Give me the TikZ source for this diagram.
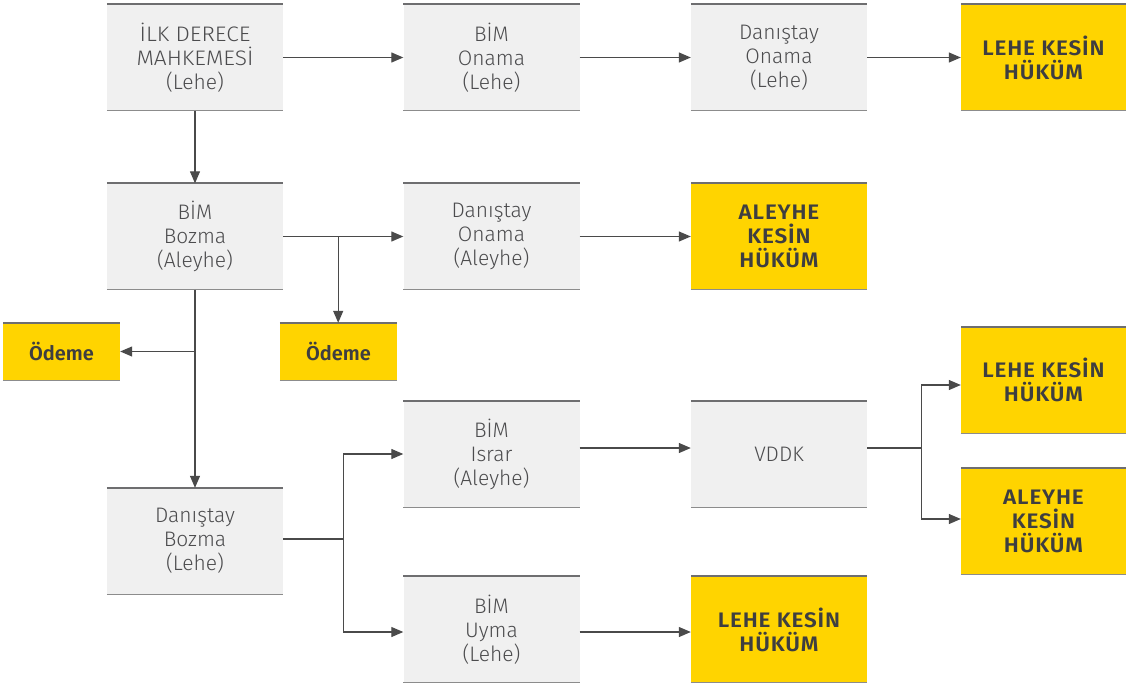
\documentclass[tikz,border=0pt]{standalone}
\usepackage{fontspec}
\setmainfont{Fira Sans Light}[BoldFont={Fira Sans SemiBold}]
\newfontfamily\capsfont{Fira Sans SemiBold}[FakeStretch=1.07,LetterSpace=4]
\newfontfamily\lightcaps{Fira Sans Light}[FakeStretch=1.08]
\usetikzlibrary{arrows.meta,calc}
\definecolor{boxgray}{HTML}{F0F0F0}
\definecolor{eyyellow}{HTML}{FFD400}
\definecolor{txtgray}{HTML}{4C4C4E}
\definecolor{txtdark}{HTML}{3E3E40}
\definecolor{linegray}{HTML}{4A4A4A}
\definecolor{topgray}{HTML}{6E6E70}
\definecolor{botgray}{HTML}{8C8C8C}
\tikzset{
  gbox/.style={fill=boxgray, minimum width=176pt, minimum height=106pt, inner sep=0pt,
    align=center, text=txtgray, font=\fontsize{21}{24}\selectfont},
  ybox/.style={fill=eyyellow, minimum width=176pt, minimum height=106pt, inner sep=0pt,
    align=center, text=txtdark, font=\fontsize{21}{24}\selectfont\capsfont},
  conn/.style={draw=linegray, line width=1.2pt},
  arr/.style={conn, -{Triangle[length=12pt,width=10pt]}},
  topline/.style={draw=topgray, line width=2.2pt},
  botline/.style={draw=botgray, line width=1.4pt},
}
\begin{document}
\begin{tikzpicture}[x=1pt,y=1pt]
\useasboundingbox (0,0) rectangle (1126,-685);
% nodes
\node[gbox] (a) at (195,-57.5) {{\lightcaps İLK DERECE}\\{\lightcaps MAHKEMESİ}\\(Lehe)};
\node[gbox] (b) at (491.5,-57.5) {BİM\\Onama\\(Lehe)};
\node[gbox] (c) at (779,-57.5) {Danıştay\\Onama\\(Lehe)};
\node[ybox, minimum width=165pt] (d) at (1043.5,-57.5) {LEHE KESİN\\HÜKÜM};
\node[gbox] (e) at (195,-236.5) {BİM\\Bozma\\(Aleyhe)};
\node[gbox] (f) at (491.5,-236.5) {Danıştay\\Onama\\(Aleyhe)};
\node[ybox] (g) at (779,-236.5) {ALEYHE\\KESİN\\HÜKÜM};
\node[ybox, minimum width=117pt, minimum height=57pt, font=\fontsize{20}{24}\selectfont\bfseries] (h) at (61.5,-351.5) {Ödeme};
\node[ybox, minimum width=117pt, minimum height=57pt, font=\fontsize{20}{24}\selectfont\bfseries] (i) at (338.5,-351.5) {Ödeme};
\node[gbox] (j) at (491.5,-454) {BİM\\Israr\\(Aleyhe)};
\node[gbox] (k) at (779,-454) {VDDK};
\node[ybox, minimum width=165pt] (l) at (1043.5,-380) {LEHE KESİN\\HÜKÜM};
\node[ybox, minimum width=165pt] (m) at (1043.5,-521.5) {ALEYHE\\KESİN\\HÜKÜM};
\node[gbox] (n) at (195,-541) {Danıştay\\Bozma\\(Lehe)};
\node[gbox] (o) at (491.5,-629.5) {BİM\\Uyma\\(Lehe)};
\node[ybox] (p) at (779,-629.5) {LEHE KESİN\\HÜKÜM};
% borders
\foreach \n in {a,b,c,d,e,f,g,h,i,j,k,l,m,n,o,p}{
  \draw[topline] (\n.north west) -- (\n.north east);
  \draw[botline] (\n.south west) -- (\n.south east);
}
% connectors
\draw[arr] (a.east) -- (b.west);
\draw[arr] (b.east) -- (c.west);
\draw[arr] (c.east) -- (d.west);
\draw[arr] (a.south) -- (e.north);
\draw[arr] (e.east) -- (f.west);
\coordinate (eb) at ($(e.east)+(55,0)$);
\draw[arr] (eb) -- (eb |- i.north);
\draw[arr] (f.east) -- (g.west);
\draw[arr] (e.south) -- (n.north);
\coordinate (ed) at (e.south |- h.east);
\draw[arr] (ed) -- (h.east);
\coordinate (nb) at ($(n.east)+(60,2)$);
\draw[conn] ([yshift=2pt]n.east) -- (nb);
\draw[arr] (nb) |- (j.west);
\draw[arr] (nb) |- ([yshift=-2.5pt]o.west);
\draw[arr] ([yshift=6pt]j.east) -- ([yshift=6pt]k.west);
\coordinate (kb) at ($(k.east)+(54,6)$);
\draw[conn] ([yshift=6pt]k.east) -- (kb);
\draw[arr] (kb) |- ([yshift=-5pt]l.west);
\draw[arr] (kb) |- ([yshift=2.5pt]m.west);
\draw[arr] ([yshift=-2.5pt]o.east) -- ([yshift=-2.5pt]p.west);
\end{tikzpicture}
\end{document}
